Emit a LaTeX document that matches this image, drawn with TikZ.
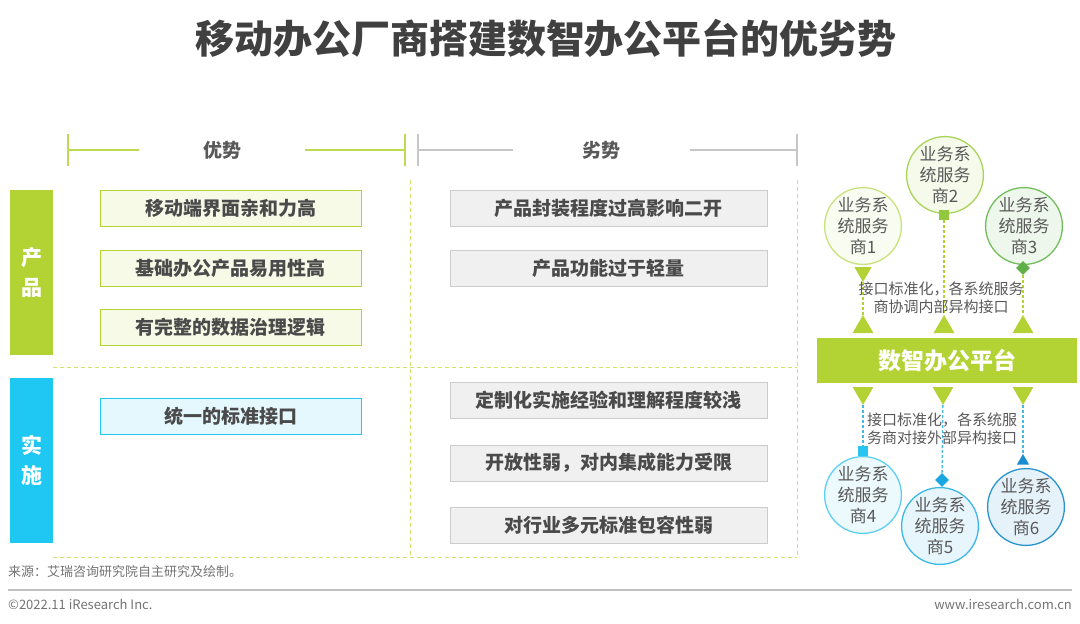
\documentclass[tikz,border=0pt]{standalone}
\usepackage{fontspec}
\setmainfont{Noto Sans CJK SC}
\usetikzlibrary{positioning, shapes.geometric, arrows.meta}

\definecolor{titlegray}{HTML}{404040}
\definecolor{textgray}{HTML}{4A4A4A}
\definecolor{notegray}{HTML}{595959}
\definecolor{leafgreen}{HTML}{B3D334}
\definecolor{skyblue}{HTML}{1EC8F2}
\definecolor{gridgreen}{HTML}{CDE36F}
\definecolor{v1col}{HTML}{C9E27E}
\definecolor{v2col}{HTML}{A9D45A}
\definecolor{v3col}{HTML}{72BE5A}
\definecolor{v4col}{HTML}{5DD0F2}
\definecolor{v5col}{HTML}{3BB8E8}
\definecolor{v6col}{HTML}{2A94CF}
\definecolor{mk2col}{HTML}{92C83E}
\definecolor{mk3col}{HTML}{5FB04A}
\definecolor{mk4col}{HTML}{29C4F0}
\definecolor{mk5col}{HTML}{1AA6E0}
\definecolor{mk6col}{HTML}{1A8DD0}

\begin{document}
\begin{tikzpicture}[
  x=1pt, y=-1pt,
  title/.style={font=\fontsize{39}{44}\selectfont\bfseries, text=titlegray},
  hdr/.style={font=\fontsize{19}{22}\selectfont\bfseries, text=notegray, minimum width=#1, inner sep=0},
  brkG/.style={draw=leafgreen!85, line width=2pt},
  brkK/.style={draw=black!22, line width=2pt},
  grid/.style={draw=gridgreen, dashed, dash pattern=on 4pt off 3pt, line width=1pt},
  side/.style={fill=#1, minimum width=43, minimum height=165, inner sep=0, text=white,
               align=center, font=\fontsize{21}{30}\selectfont\bfseries},
  pro/.style={draw=#1, fill=#1!12, line width=1pt, minimum width=261, minimum height=36,
              inner sep=0, text=textgray, font=\fontsize{19}{22}\selectfont\bfseries},
  con/.style={draw=black!20, fill=black!6, line width=1pt, minimum width=317, minimum height=36,
              inner sep=0, text=textgray, font=\fontsize{19}{22}\selectfont\bfseries},
  vendor/.style={circle, draw=#1, fill=#1!12, line width=1.3pt, minimum size=73, inner sep=0,
                 align=center, text=notegray, font=\fontsize{17}{21}\selectfont},
  tri/.style={regular polygon, regular polygon sides=3, fill=#1, inner sep=0, minimum size=24},
  sq/.style={rectangle, fill=#1, inner sep=0, minimum size=10},
  dia/.style={diamond, fill=#1, inner sep=0, minimum size=14},
  linkG/.style={draw=leafgreen, dashed, dash pattern=on 3pt off 2pt, line width=1.3pt},
  linkB/.style={draw=mk5col!80, dashed, dash pattern=on 3pt off 2pt, line width=1.3pt},
  note/.style={font=\fontsize{15}{17.5}\selectfont, text=notegray, inner sep=0},
  foot/.style={font=\fontsize{13}{15}\selectfont, text=black!55, inner sep=0}
]
\useasboundingbox (0,0) rectangle (1080,624);

% Title
\node[title] (ttl) at (546,38) {移动办公厂商搭建数智办公平台的优劣势};

% Headers
\coordinate (advL) at (68,150);
\coordinate (advR) at (405,150);
\node[hdr=165] (adv) at (222,150) {优势};
\draw[brkG] (advL) -- (adv.west) (adv.east) -- (advR);
\draw[brkG] (advL) ++(0,-16) -- ++(0,32);
\draw[brkG] (advR) ++(0,-16) -- ++(0,32);

\coordinate (disL) at (418,150);
\coordinate (disR) at (797,150);
\node[hdr=177] (dis) at (601.5,150) {劣势};
\draw[brkK] (disL) -- (dis.west) (dis.east) -- (disR);
\draw[brkK] (disL) ++(0,-16) -- ++(0,32);
\draw[brkK] (disR) ++(0,-16) -- ++(0,32);

% Grid
\draw[grid] (410,180) -- (410,557);
\draw[grid] (797,180) -- (797,557);
\draw[grid] (53,367) -- (797,367);
\draw[grid] (53,557) -- (797,557);

% Side bars
\node[side=leafgreen] (prod) at (31.5,272.5) {产\\品};
\node[side=skyblue] (impl) at (31.5,460.5) {实\\施};

% Advantages
\node[pro=leafgreen] (a1) at (230.5,208) {移动端界面亲和力高};
\node[pro=leafgreen] (a2) at (230.5,268.5) {基础办公产品易用性高};
\node[pro=leafgreen] (a3) at (230.5,327) {有完整的数据治理逻辑};
\node[pro=skyblue] (a4) at (230.5,416) {统一的标准接口};

% Disadvantages
\node[con] (d1) at (608.5,208) {产品封装程度过高影响二开};
\node[con] (d2) at (608.5,268) {产品功能过于轻量};
\node[con] (d3) at (608.5,400) {定制化实施经验和理解程度较浅};
\node[con] (d4) at (608.5,463) {开放性弱，对内集成能力受限};
\node[con] (d5) at (608.5,525) {对行业多元标准包容性弱};

% Platform
\node[fill=leafgreen, minimum width=260, minimum height=45, inner sep=0, text=white,
      font=\fontsize{23}{26}\selectfont\bfseries] (plat) at (947,360.5) {数智办公平台};

% Upper vendors
\node[vendor=v1col] (v1) at (863,226) {业务系\\统服务\\商1};
\node[vendor=v2col] (v2) at (945,175) {业务系\\统服务\\商2};
\node[vendor=v3col] (v3) at (1024,226) {业务系\\统服务\\商3};

\node[tri=leafgreen, minimum size=20, rotate=180] (mk1) at (863,272) {};
\node[sq=mk2col] (mk2) at (944,215) {};
\node[dia=mk3col] (mk3) at (1023,268) {};

\node[tri=leafgreen] (tp1) at (863,327) {};
\node[tri=leafgreen] (tp2) at (944,327) {};
\node[tri=leafgreen] (tp3) at (1023,327) {};

\draw[linkG] (mk1) -- (tp1);
\draw[linkG] (mk2) -- (tp2);
\draw[linkG] (mk3) -- (tp3);

\node[note, align=center] (upnote) at (941,298) {接口标准化，各系统服务\\商协调内部异构接口};

% Lower vendors
\node[tri=leafgreen, rotate=180] (tp4) at (863,393) {};
\node[tri=leafgreen, rotate=180] (tp5) at (943,393) {};
\node[tri=leafgreen, rotate=180] (tp6) at (1023,393) {};

\node[sq=mk4col] (mk4) at (863,451) {};
\node[dia=mk5col] (mk5) at (942,480) {};
\node[tri=mk6col, minimum size=14] (mk6) at (1023,461) {};

\draw[linkB] (tp4) -- (mk4);
\draw[linkB] (tp5) -- (mk5);
\draw[linkB] (tp6) -- (mk6);

\node[vendor=v4col] (v4) at (863,495) {业务系\\统服务\\商4};
\node[vendor=v5col] (v5) at (940,526) {业务系\\统服务\\商5};
\node[vendor=v6col] (v6) at (1026,507) {业务系\\统服务\\商6};

\node[note, align=left, anchor=west] (lownote) at (867,429) {接口标准化，各系统服\\务商对接外部异构接口};

% Footer
\node[foot, anchor=west] (src) at (8,572) {来源：艾瑞咨询研究院自主研究及绘制。};
\draw[draw=black!25, line width=2pt] (8,590) -- (1072,590);
\node[foot, anchor=west] (copy) at (8,604) {©2022.11 iResearch Inc.};
\node[foot, anchor=east] (web) at (1072,604) {www.iresearch.com.cn};

\end{tikzpicture}
\end{document}
